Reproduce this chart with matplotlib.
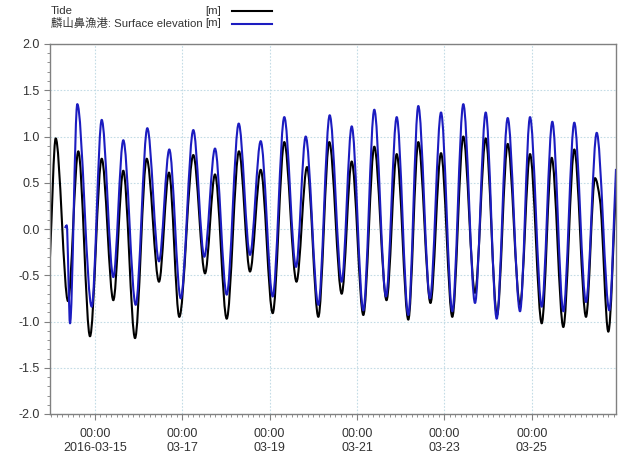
import matplotlib
matplotlib.use("Agg")
import matplotlib.pyplot as plt
import matplotlib.dates as mdates
from matplotlib.path import Path
from matplotlib.patches import PathPatch
from matplotlib.lines import Line2D
from matplotlib.ticker import MultipleLocator
import numpy as np
import pandas as pd

plt.rcParams['font.family'] = ['Liberation Sans', 'Noto Sans CJK TC', 'DejaVu Sans']

# turning points (time, metres)
tide_time = [
    "2016-03-13 23:16", "2016-03-14 02:24", "2016-03-14 09:10", "2016-03-14 14:49",
    "2016-03-14 21:15", "2016-03-15 03:41", "2016-03-15 10:04", "2016-03-15 15:33",
    "2016-03-15 22:00", "2016-03-16 04:25", "2016-03-16 11:10", "2016-03-16 16:40",
    "2016-03-16 22:20", "2016-03-17 06:02", "2016-03-17 12:28", "2016-03-17 17:57",
    "2016-03-18 00:23", "2016-03-18 07:08", "2016-03-18 13:11", "2016-03-18 19:04",
    "2016-03-19 01:40", "2016-03-19 08:02", "2016-03-19 14:44", "2016-03-19 20:31",
    "2016-03-20 02:44", "2016-03-20 08:46", "2016-03-20 15:35", "2016-03-20 21:05",
    "2016-03-21 03:28", "2016-03-21 09:30", "2016-03-21 16:13", "2016-03-21 21:49",
    "2016-03-22 04:11", "2016-03-22 09:41", "2016-03-22 16:23", "2016-03-22 22:10",
    "2016-03-23 04:22", "2016-03-23 10:25", "2016-03-23 16:51", "2016-03-23 22:44",
    "2016-03-24 04:56", "2016-03-24 10:49", "2016-03-24 17:35", "2016-03-24 23:05",
    "2016-03-25 05:31", "2016-03-25 11:00", "2016-03-25 17:23", "2016-03-25 23:25",
    "2016-03-26 05:51", "2016-03-26 10:48", "2016-03-26 13:33", "2016-03-26 18:07",
    "2016-03-26 22:20",
]
tide_value = [
    -0.30, 0.98, -0.78, 0.84, -1.16, 0.76, -0.77, 0.63,
    -1.18, 0.76, -0.57, 0.61, -0.95, 0.80, -0.48, 0.59,
    -0.97, 0.84, -0.46, 0.64, -0.91, 0.94, -0.57, 0.67,
    -0.95, 0.94, -0.70, 0.73, -0.93, 0.89, -0.77, 0.81,
    -0.98, 0.94, -0.80, 0.82, -0.95, 1.00, -0.69, 0.98,
    -0.93, 0.92, -0.82, 0.81, -1.02, 0.77, -1.06, 0.86,
    -0.95, 0.55, 0.31, -1.11, 0.45,
]

station_time = [
    "2016-03-14 07:31", "2016-03-14 08:27", "2016-03-14 10:16", "2016-03-14 14:16",
    "2016-03-14 22:11", "2016-03-15 03:41", "2016-03-15 10:04", "2016-03-15 15:33",
    "2016-03-15 22:22", "2016-03-16 04:45", "2016-03-16 11:10", "2016-03-16 16:50",
    "2016-03-16 23:06", "2016-03-17 06:02", "2016-03-17 12:04", "2016-03-17 17:57",
    "2016-03-18 00:23", "2016-03-18 06:59", "2016-03-18 13:11", "2016-03-18 19:04",
    "2016-03-19 01:40", "2016-03-19 08:02", "2016-03-19 14:28", "2016-03-19 19:48",
    "2016-03-20 02:44", "2016-03-20 08:59", "2016-03-20 15:35", "2016-03-20 21:05",
    "2016-03-21 03:28", "2016-03-21 09:30", "2016-03-21 15:56", "2016-03-21 21:49",
    "2016-03-22 04:11", "2016-03-22 09:41", "2016-03-22 16:07", "2016-03-22 22:10",
    "2016-03-23 04:22", "2016-03-23 10:25", "2016-03-23 16:51", "2016-03-23 22:44",
    "2016-03-24 04:46", "2016-03-24 10:49", "2016-03-24 17:35", "2016-03-24 23:05",
    "2016-03-25 05:31", "2016-03-25 11:20", "2016-03-25 17:23", "2016-03-25 23:25",
    "2016-03-26 05:51", "2016-03-26 11:44", "2016-03-26 18:40", "2016-03-26 22:20",
]
station_value = [
    0.01, 0.04, -1.02, 1.35, -0.84, 1.18, -0.52, 0.96,
    -0.82, 1.09, -0.35, 0.86, -0.75, 1.07, -0.30, 0.87,
    -0.71, 1.14, -0.28, 0.95, -0.73, 1.21, -0.41, 1.00,
    -0.82, 1.23, -0.57, 1.11, -0.88, 1.29, -0.73, 1.21,
    -0.93, 1.33, -0.75, 1.26, -0.89, 1.35, -0.80, 1.26,
    -0.97, 1.20, -0.89, 1.21, -0.84, 1.16, -0.89, 1.15,
    -0.79, 1.04, -0.88, 0.65,
]

tick_dates = ["2016-03-15", "2016-03-17", "2016-03-19", "2016-03-21", "2016-03-23", "2016-03-25"]
tick_labels = ["00:00\n2016-03-15", "00:00\n03-17", "00:00\n03-19",
               "00:00\n03-21", "00:00\n03-23", "00:00\n03-25"]
x_start, x_end = "2016-03-13 23:16", "2016-03-26 22:20"


def smooth_path(times, values):
    # bezier curve through the turning points, flat at the peaks and troughs
    t = mdates.date2num(pd.to_datetime(times))
    v = np.asarray(values, float)
    d = np.diff(v) / np.diff(t)
    m = np.zeros_like(v)
    m[0], m[-1] = d[0], d[-1]
    for i in range(1, len(v) - 1):
        if d[i - 1] * d[i] > 0:
            m[i] = 2 / (1 / d[i - 1] + 1 / d[i])
    verts = [(t[0], v[0])]
    codes = [Path.MOVETO]
    for i in range(len(v) - 1):
        h = (t[i + 1] - t[i]) / 3
        verts += [(t[i] + h, v[i] + m[i] * h),
                  (t[i + 1] - h, v[i + 1] - m[i + 1] * h),
                  (t[i + 1], v[i + 1])]
        codes += [Path.CURVE4] * 3
    return Path(verts, codes)


fig = plt.figure(figsize=(6.27, 4.54), dpi=100)
ax = fig.add_axes([50 / 627, 40 / 454, 566 / 627, 370 / 454])

ax.add_patch(PathPatch(smooth_path(tide_time, tide_value), fill=False,
                       edgecolor='black', lw=1.5, joinstyle='round'))
ax.add_patch(PathPatch(smooth_path(station_time, station_value), fill=False,
                       edgecolor='#1c1cc0', lw=1.5, joinstyle='round'))

ax.set_xlim(pd.Timestamp(x_start), pd.Timestamp(x_end))
ax.set_ylim(-2.0, 2.0)
ax.set_xticks(pd.to_datetime(tick_dates))
ax.set_xticklabels(tick_labels)
ax.xaxis.set_minor_locator(mdates.HourLocator(byhour=range(0, 24, 3)))
ax.yaxis.set_major_locator(MultipleLocator(0.5))
ax.yaxis.set_minor_locator(MultipleLocator(0.1))
ax.yaxis.set_major_formatter(matplotlib.ticker.FormatStrFormatter('%.1f'))

ax.grid(True, which='major', color='#c4dce6', linestyle=(0, (1.5, 1.5)), lw=0.8)
ax.set_axisbelow(True)
for s in ax.spines.values():
    s.set_color('#808080')
    s.set_linewidth(1.0)
ax.tick_params(which='major', length=4, color='#808080', labelsize=9, labelcolor='#333333')
ax.tick_params(axis='x', which='major', pad=6)
ax.tick_params(which='minor', length=2.5, color='#808080')

# legend above the axes
fs = 8.2
fig.text(51 / 627, 1 - 11 / 454, "Tide", fontsize=fs, color='#333333', va='center')
fig.text(221 / 627, 1 - 11 / 454, "[m]", fontsize=fs, color='#333333', va='center', ha='right')
fig.text(51 / 627, 1 - 23.5 / 454, "麟山鼻漁港: Surface elevation", fontsize=fs,
         color='#333333', va='center')
fig.text(221 / 627, 1 - 23.5 / 454, "[m]", fontsize=fs, color='#333333', va='center', ha='right')
fig.add_artist(Line2D([232 / 627, 272 / 627], [1 - 11 / 454] * 2, transform=fig.transFigure,
                      color='black', lw=1.5))
fig.add_artist(Line2D([232 / 627, 272 / 627], [1 - 23.5 / 454] * 2, transform=fig.transFigure,
                      color='#1c1cc0', lw=1.5))

fig.savefig("out.png", dpi=100)
